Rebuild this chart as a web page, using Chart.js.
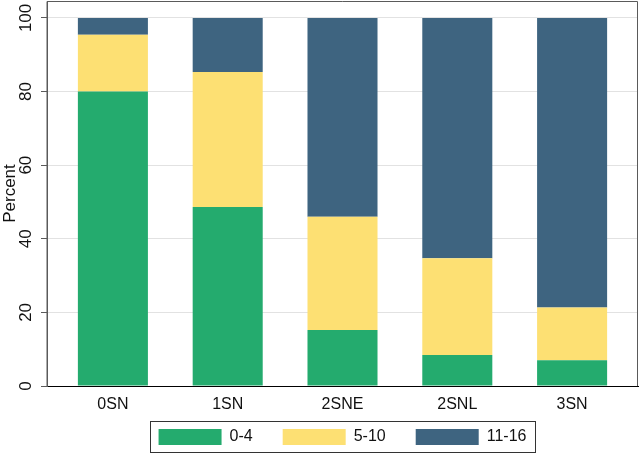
<!DOCTYPE html>
<html>
<head>
<meta charset="utf-8">
<script src="https://cdn.jsdelivr.net/npm/chart.js@4/dist/chart.umd.min.js"></script>
<style>
  html, body { margin: 0; padding: 0; background: #fff; }
  #wrap { width: 640px; height: 453px; }
</style>
</head>
<body>
<div id="wrap"><canvas id="chart"></canvas></div>
<script>
const categories = ['0SN', '1SN', '2SNE', '2SNL', '3SN'];
const groups = ['0-4', '5-10', '11-16'];
const age0to4 = [80.0, 48.6, 15.2, 8.4, 7.0];
const age5to10 = [15.4, 36.7, 30.8, 26.3, 14.3];
const age11to16 = [4.6, 14.7, 54.0, 65.3, 78.7];
const yTicks = [0, 20, 40, 60, 80, 100];

const colors = ['#24ab6e', '#fde073', '#3e6480'];
const fontFamily = '"Liberation Sans", Arial, sans-serif';

function points(values) {
    return values.map((v, i) => ({ x: i, y: v }));
}

// frame round the plot, tick labels (y ones rotated) and a box round the legend
const stataLook = {
    id: 'stataLook',
    afterDraw(chart) {
        const ctx = chart.ctx;
        const area = chart.chartArea;
        ctx.save();
        ctx.strokeStyle = '#5a5a5a';
        ctx.lineWidth = 1;
        ctx.beginPath();
        ctx.moveTo(area.left, area.bottom);
        ctx.lineTo(area.left, area.top + 0.5);
        ctx.lineTo(area.right - 0.5, area.top + 0.5);
        ctx.lineTo(area.right - 0.5, area.bottom);
        ctx.stroke();

        ctx.fillStyle = '#111';
        ctx.textAlign = 'center';
        ctx.textBaseline = 'middle';

        const y = chart.scales.y;
        ctx.font = '17px ' + fontFamily;
        y.ticks.forEach(t => {
            ctx.save();
            ctx.translate(26.5, y.getPixelForValue(t.value));
            ctx.rotate(-Math.PI / 2);
            ctx.fillText(String(t.value), 0, 0);
            ctx.restore();
        });

        const x = chart.scales.x;
        ctx.font = '16px ' + fontFamily;
        x.ticks.forEach(t => {
            ctx.fillText(categories[t.value], x.getPixelForValue(t.value), area.bottom + 19);
        });

        const boxes = chart.legend.legendHitBoxes;
        if (boxes && boxes.length) {
            const first = boxes[0], last = boxes[boxes.length - 1];
            const l = Math.round(first.left) - 8.5;
            const r = Math.round(last.left + last.width) + 9.5;
            const t = Math.round(first.top) - 7.5;
            const b = Math.round(first.top + first.height) + 7.5;
            ctx.strokeStyle = '#333';
            ctx.strokeRect(l, t, r - l, b - t);
        }
        ctx.restore();
    }
};

new Chart(document.getElementById('chart'), {
    type: 'bar',
    data: {
        datasets: [
            { label: groups[0], data: points(age0to4), backgroundColor: colors[0], borderColor: colors[0] },
            { label: groups[1], data: points(age5to10), backgroundColor: colors[1], borderColor: colors[1] },
            { label: groups[2], data: points(age11to16), backgroundColor: colors[2], borderColor: colors[2] }
        ]
    },
    options: {
        responsive: true,
        maintainAspectRatio: false,
        animation: false,
        barPercentage: 0.61,
        categoryPercentage: 1,
        borderWidth: 0,
        layout: { padding: { top: 1, right: 2, left: 0, bottom: -2 } },
        plugins: {
            tooltip: { enabled: false },
            legend: {
                position: 'bottom',
                fullSize: false,
                labels: {
                    boxWidth: 63,
                    boxHeight: 16,
                    padding: 30,
                    color: '#111',
                    font: { family: fontFamily, size: 16 }
                }
            }
        },
        scales: {
            x: {
                type: 'linear',
                stacked: true,
                offset: false,
                min: -0.574,
                max: 4.574,
                afterBuildTicks: s => { s.ticks = categories.map((c, i) => ({ value: i })); },
                afterFit: s => { s.height = 13; },
                grid: { display: false },
                border: { display: true, color: '#000', width: 1 },
                ticks: { display: false }
            },
            y: {
                stacked: true,
                min: 0,
                max: 104.6,
                afterBuildTicks: s => { s.ticks = yTicks.map(v => ({ value: v })); },
                afterFit: s => { s.width = 47; },
                grid: { color: '#e2e2e2', tickColor: '#5a5a5a', tickLength: 6 },
                border: { display: true, color: '#5a5a5a', width: 1 },
                ticks: { display: false },
                title: {
                    display: true,
                    text: 'Percent',
                    color: '#111',
                    padding: 0,
                    font: { family: fontFamily, size: 17 }
                }
            }
        }
    },
    plugins: [stataLook]
});
</script>
</body>
</html>
